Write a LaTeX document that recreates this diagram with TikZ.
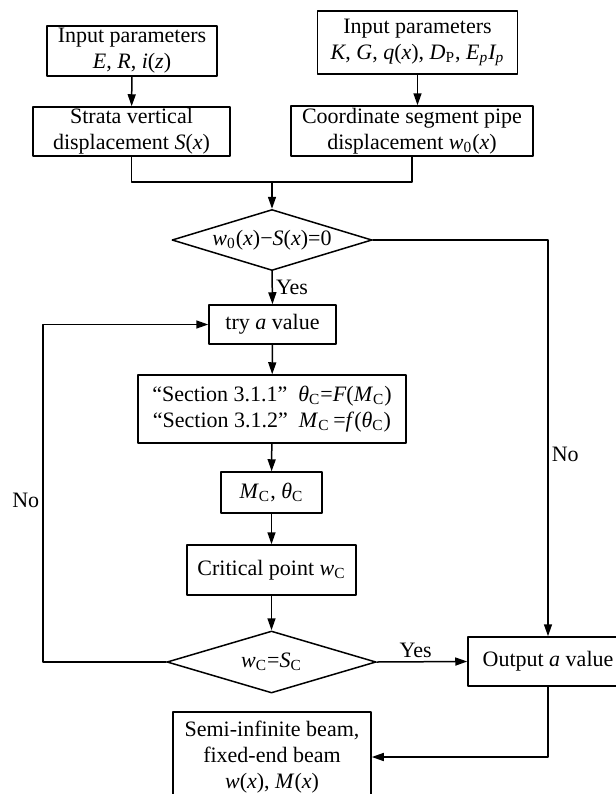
\documentclass[tikz,border=0pt]{standalone}
\usepackage{fontspec}
\setmainfont{Liberation Serif}
\usetikzlibrary{shapes.geometric,arrows.meta}
\begin{document}
\begin{tikzpicture}[x=0.5pt, y=-0.5pt, line cap=round, line join=round, line width=0.75pt, font=\fontsize{11}{13}\selectfont, >={Triangle[length=6pt,width=4pt]}]
	\tikzset{box/.style={draw, align=center, inner sep=0pt}}
	\tikzset{decide/.style={draw, diamond, aspect=3.3, inner sep=0pt}}
	\tikzset{lbl/.style={inner sep=1.5pt}}
	\useasboundingbox (0,0) rectangle (616,794);
	% inputs
	\node[box, minimum width=85pt, minimum height=25pt] (inA) at (132,51) {Input parameters\\\textit{E}, \textit{R}, \textit{i}(\textit{z})};
	\node[box, minimum width=100pt, minimum height=31.5pt] (inB) at (417.5,42.5) {Input parameters\\\textit{K}, \textit{G}, \textit{q}(\textit{x}), \textit{D}\textsubscript{P}, \textit{E\textsubscript{p}I\textsubscript{p}}};
	\node[box, minimum width=98.5pt, minimum height=24.5pt] (strata) at (131.5,131.5) {Strata vertical\\displacement \textit{S}(\textit{x})};
	\node[box, minimum width=121pt, minimum height=25pt] (pipe) at (412,131) {Coordinate segment pipe\\displacement \textit{w}\textsubscript{0}(\textit{x})};
	\coordinate (mrg) at (272,182);
	% checks and loop
	\node[decide, minimum width=100pt, minimum height=30.5pt] (chk) at (272,240) {\textit{w}\textsubscript{0}(\textit{x})−\textit{S}(\textit{x})=0};
	\node[box, minimum width=63.5pt, minimum height=19.5pt] (try) at (272.5,324.5) {try \textit{a} value};
	\node[box, minimum width=134pt, minimum height=34pt] (sect) at (272,409) {“Section 3.1.1”\ \ \textit{θ}\textsubscript{C}=\textit{F}(\textit{M}\textsubscript{C})\\“Section 3.1.2”\ \ \textit{M}\textsubscript{C}\,=\textit{f}(\textit{θ}\textsubscript{C})};
	\node[box, minimum width=50.5pt, minimum height=20.5pt] (mth) at (271.5,492.5) {\textit{M}\textsubscript{C}, \textit{θ}\textsubscript{C}};
	\node[box, minimum width=84.5pt, minimum height=25pt] (crit) at (271.5,570) {Critical point \textit{w}\textsubscript{C}};
	\node[decide, minimum width=104.5pt, minimum height=31pt] (eq) at (271.5,662) {\textit{w}\textsubscript{C}=\textit{S}\textsubscript{C}};
	\node[box, minimum width=80pt, minimum height=24.5pt] (out) at (548,661.5) {Output \textit{a} value};
	\node[box, minimum width=99pt, minimum height=45pt] (beam) at (272,757) {Semi-infinite beam,\\fixed-end beam\\\textit{w}(\textit{x}), \textit{M}(\textit{x})};
	\coordinate (lp) at (43,662);
	% connectors
	\draw[->] (inA) -- (strata);
	\draw[->] (inB.south) -- (inB.south |- pipe.north);
	\draw (strata.south) |- (mrg) -| (pipe.south);
	\draw[->] (mrg) -- (chk.north);
	\draw[->] (chk.south) -- node[lbl, right]{Yes} (try.north);
	\draw[->] (chk.east) -| node[lbl, right, pos=0.77]{No} (out.north);
	\draw[->] (try) -- (sect);
	\draw[->] (sect) -- (mth);
	\draw[->] (mth) -- (crit);
	\draw[->] (crit) -- (eq);
	\draw[->] (eq.east) -- node[lbl, above, pos=0.43]{Yes} (out.west);
	\draw[->] (eq.west) -- (lp) |- node[lbl, left, pos=0.24]{No} (try.west);
	\draw[->] (out.south) |- (beam.east);
\end{tikzpicture}
\end{document}
